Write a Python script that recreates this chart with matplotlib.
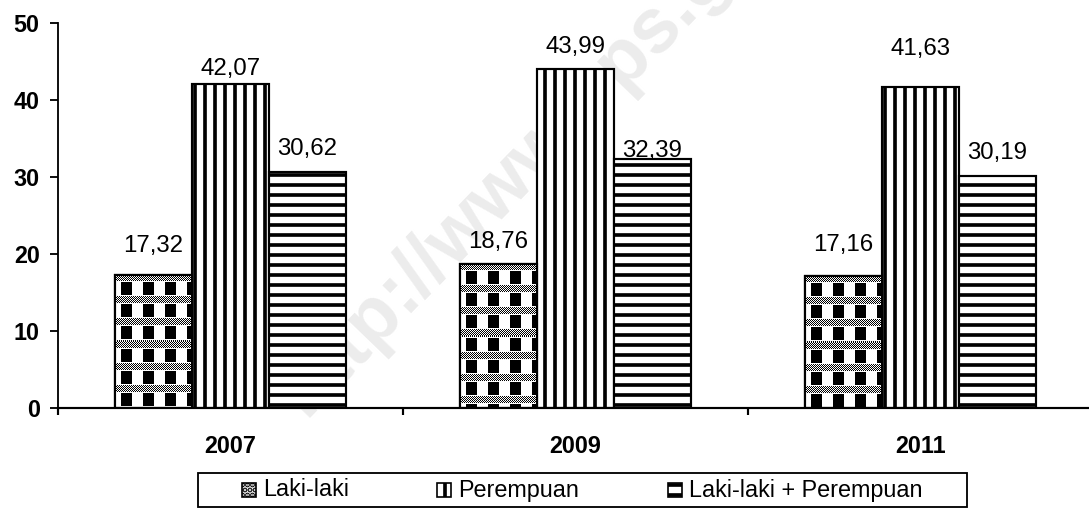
import matplotlib
matplotlib.use('Agg')
import matplotlib.pyplot as plt
import matplotlib.patches as mpatches
import numpy as np

# ── Data ──
years = ['2007', '2009', '2011']
laki = [17.32, 18.76, 17.16]
perempuan = [42.07, 43.99, 41.63]
gabungan = [30.62, 32.39, 30.19]
series_labels = ['Laki-laki', 'Perempuan', 'Laki-laki + Perempuan']
yticks = [0, 10, 20, 30, 40, 50]

# gap between label baseline and bar top (px) for each series
label_gap = [[23, 16, 25], [9, 16, 32], [17, 2, 17]]

DPI = 120
W, H = 1089, 510
PT = 72 / DPI   # px -> pt

plt.rcParams.update({
    'font.family': ['Liberation Sans', 'DejaVu Sans'],
    'hatch.linewidth': 2.2,
    'hatch.color': 'black',
})


def checker_texture(h, w):
    """Black blocks on white with dotted grey bands between rows."""
    yy, xx = np.mgrid[0:h, 0:w]
    tex = np.ones((h, w))
    band = (yy % 22) < 7
    tex[band] = (xx[band] + yy[band]) % 2
    block = (~band) & ((xx % 22) >= 6) & ((xx % 22) < 17) & ((yy % 22) >= 8) & ((yy % 22) < 21)
    tex[block] = 0
    return tex


def fmt(v):
    return f'{v:.2f}'.replace('.', ',')


fig = plt.figure(figsize=(W / DPI, H / DPI), dpi=DPI)
ax = fig.add_axes([58 / W, 102 / H, 1035 / W, 385 / H])
ax.set_xlim(-0.5, 2.5)
ax.set_ylim(0, 50)

x = np.arange(len(years))
bw = 77 / 345

b1 = ax.bar(x - bw, laki, bw, facecolor='white', edgecolor='black', lw=1.3, zorder=3)
b2 = ax.bar(x, perempuan, bw, facecolor='white', edgecolor='black', lw=1.3,
            hatch='||', zorder=3)
b3 = ax.bar(x + bw, gabungan, bw, facecolor='white', edgecolor='black', lw=1.3,
            hatch='--', zorder=3)

# checkered fill for the first series, clipped to each bar
for bar in b1:
    x0, h = bar.get_x(), bar.get_height()
    x1 = x0 + bar.get_width()
    (px0, py0), (px1, py1) = ax.transData.transform([[x0, 0], [x1, h]])
    tex = checker_texture(max(int(round(py1 - py0)), 1), max(int(round(px1 - px0)), 1))
    im = ax.imshow(tex, cmap='gray', vmin=0, vmax=1, extent=(x0, x1, 0, h),
                   interpolation='nearest', aspect='auto', zorder=3.5)
    im.set_clip_path(bar)
ax.bar(x - bw, laki, bw, facecolor='none', edgecolor='black', lw=1.3, zorder=4)
ax.set_xlim(-0.5, 2.5)
ax.set_ylim(0, 50)

# value labels
for bars, vals, gaps in zip([b1, b2, b3], [laki, perempuan, gabungan], label_gap):
    for bar, v, g in zip(bars, vals, gaps):
        ax.annotate(fmt(v), (bar.get_x() + bar.get_width() / 2, v),
                    xytext=(0, g * PT), textcoords='offset points',
                    ha='center', va='baseline', fontsize=14.4, zorder=6)

# axes styling
for s in ['top', 'right']:
    ax.spines[s].set_visible(False)
ax.spines['left'].set_linewidth(1.1)
ax.spines['bottom'].set_linewidth(1.3)
ax.spines['bottom'].set_zorder(5)

ax.set_yticks(yticks)
ax.set_yticklabels([str(t) for t in yticks], fontsize=14, fontweight='bold')
ax.tick_params(axis='y', length=5, width=1.1, pad=6)

ax.set_xticks([-0.5, 0.5, 1.5, 2.5])
ax.set_xticklabels([])
ax.tick_params(axis='x', which='major', length=4, width=1.3)
ax.set_xticks(x, minor=True)
ax.set_xticklabels(years, minor=True, fontsize=14, fontweight='bold')
ax.tick_params(axis='x', which='minor', length=0, pad=16)

# watermark
ax.text(305 / W, 1 - 418 / H, 'http://www.bps.go.id', transform=fig.transFigure,
        rotation=46, rotation_mode='anchor', ha='left', va='baseline',
        fontsize=46, fontweight='bold', color='#ececec', zorder=1, clip_on=False)

# legend box
fig.add_artist(mpatches.Rectangle((198 / W, 3 / H), 769 / W, 34 / H,
                                  transform=fig.transFigure, fill=False,
                                  edgecolor='black', lw=1.1))
handle_x = [242, 437, 668]
handle_style = [dict(hatch='....'), dict(hatch='||'), dict(hatch='--')]
for hx, lab, st in zip(handle_x, series_labels, handle_style):
    fig.add_artist(mpatches.Rectangle((hx / W, 13 / H), 14 / W, 14 / H,
                                      transform=fig.transFigure, facecolor='white',
                                      edgecolor='black', lw=1.0, **st))
    fig.text((hx + 21) / W, 20 / H, lab, fontsize=14, va='center', ha='left')

fig.savefig('out.png', dpi=DPI)
